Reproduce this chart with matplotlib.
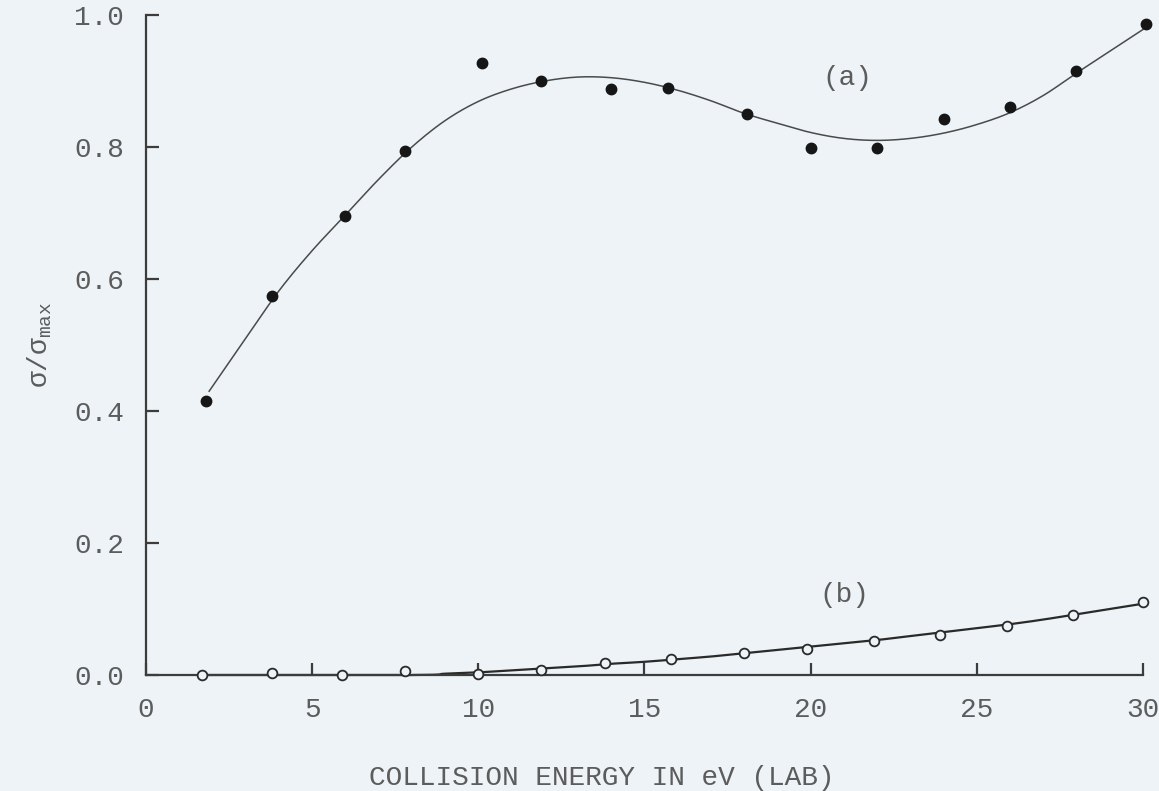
import matplotlib
matplotlib.use('Agg')
import matplotlib.pyplot as plt
import numpy as np

# measured data (a): filled circles
energy_a = [1.8, 3.8, 6.0, 7.8, 10.1, 11.9, 14.0, 15.7, 18.1, 20.0, 22.0, 24.0, 26.0, 28.0, 30.1]
sigma_a = [0.415, 0.574, 0.696, 0.794, 0.928, 0.900, 0.888, 0.889, 0.850, 0.799,
           0.799, 0.843, 0.861, 0.915, 0.987]

# measured data (b): open circles
energy_b = [1.7, 3.8, 5.9, 7.8, 10.0, 11.9, 13.8, 15.8, 18.0, 19.9, 21.9, 23.9, 25.9, 27.9, 30.0]
sigma_b = [0.0, 0.003, 0.0, 0.006, 0.002, 0.008, 0.018, 0.024, 0.033, 0.040,
           0.052, 0.061, 0.074, 0.091, 0.111]

# hand-drawn curves
curve_a_energy = [1.9, 3, 4, 5, 6, 7, 8, 9, 10, 11, 12, 13, 14, 15, 16, 17, 18, 19, 20,
                  21, 22, 23, 24, 25, 26, 27, 28, 29, 30]
curve_a = [0.430, 0.510, 0.582, 0.643, 0.697, 0.751, 0.800, 0.840, 0.869, 0.888, 0.900,
           0.906, 0.905, 0.898, 0.886, 0.870, 0.851, 0.836, 0.822, 0.813, 0.810, 0.813,
           0.821, 0.834, 0.852, 0.878, 0.912, 0.945, 0.978]

curve_b_energy = [1.7, 8, 9, 10, 11, 12, 13, 14, 15, 16, 17, 18, 19, 20, 21, 22, 23, 24,
                  25, 26, 27, 28, 29, 30]
curve_b = [0.0, 0.0, 0.002, 0.004, 0.007, 0.010, 0.013, 0.017, 0.020, 0.024, 0.028, 0.033,
           0.038, 0.043, 0.048, 0.053, 0.059, 0.065, 0.071, 0.077, 0.084, 0.092, 0.100, 0.108]

x_ticks = [0, 5, 10, 15, 20, 25, 30]
x_tick_labels = ['0', '5', '10', '15', '20', '25', '30']
y_ticks = [0.0, 0.2, 0.4, 0.6, 0.8, 1.0]
y_tick_labels = ['0.0', '0.2', '0.4', '0.6', '0.8', '1.0']


def smooth_line(xs, ys, n=12):
    """Catmull-Rom rendering of a hand-drawn line through the read points."""
    x = np.asarray(xs, float)
    y = np.asarray(ys, float)
    px = np.concatenate([[2 * x[0] - x[1]], x, [2 * x[-1] - x[-2]]])
    py = np.concatenate([[2 * y[0] - y[1]], y, [2 * y[-1] - y[-2]]])
    outx, outy = [], []
    t = np.linspace(0, 1, n, endpoint=False)
    for i in range(1, len(px) - 2):
        for arr, out in ((px, outx), (py, outy)):
            p0, p1, p2, p3 = arr[i - 1], arr[i], arr[i + 1], arr[i + 2]
            out.extend(0.5 * ((2 * p1) + (-p0 + p2) * t + (2 * p0 - 5 * p1 + 4 * p2 - p3) * t ** 2
                              + (-p0 + 3 * p1 - 3 * p2 + p3) * t ** 3))
    outx.append(x[-1])
    outy.append(y[-1])
    return outx, outy


plt.rcParams['font.family'] = ['Liberation Mono', 'DejaVu Sans Mono']
text_col = '#5c5c5c'
bg = '#edf3f6'

fig = plt.figure(figsize=(11.59, 7.91), dpi=100, facecolor=bg)
ax = fig.add_axes([146 / 1159, 116 / 791, 1006.9 / 1159, 660 / 791])
ax.set_facecolor(bg)

sx, sy = smooth_line(curve_a_energy, curve_a)
ax.plot(sx, sy, color='#4a4a4a', lw=1.1, clip_on=False, zorder=2)
sx, sy = smooth_line(curve_b_energy, curve_b)
ax.plot(sx, sy, color='#2a2a2a', lw=1.6, clip_on=False, zorder=2)
ax.plot(energy_a, sigma_a, 'o', ms=7.5, color='#161616', clip_on=False, zorder=3)
ax.plot(energy_b, sigma_b, 'o', ms=7, mfc=bg, mec='#2a2a2a', mew=1.3,
        clip_on=False, zorder=3)

ax.set_xlim(0, 30.3)
ax.set_ylim(0, 1.0)
for s in ['top', 'right']:
    ax.spines[s].set_visible(False)
for s in ['left', 'bottom']:
    ax.spines[s].set_color('#3c3c3c')
    ax.spines[s].set_linewidth(1.6)
ax.spines['bottom'].set_bounds(0, 30)
ax.spines['left'].set_bounds(0, 1.0)

ax.set_xticks(x_ticks)
ax.set_xticklabels(x_tick_labels)
ax.set_yticks(y_ticks)
ax.set_yticklabels(y_tick_labels)
ax.tick_params(axis='both', direction='in', color='#3c3c3c', width=1.6,
               labelsize=20, labelcolor=text_col)
ax.tick_params(axis='x', length=8.5, pad=16)
ax.tick_params(axis='y', length=9.5, pad=16)

ax.set_xlabel('COLLISION ENERGY IN eV (LAB)', fontsize=20, color=text_col,
              va='center', ha='center')
ax.xaxis.set_label_coords(0.453, -0.156)
ax.set_ylabel('$\\mathregular{σ/σ_{max}}$', fontsize=20, color=text_col, labelpad=14)

ax.text(21.1, 0.904, '(a)', fontsize=20, color=text_col, ha='center', va='center')
ax.text(21.0, 0.121, '(b)', fontsize=20, color=text_col, ha='center', va='center')

fig.savefig('out.png', dpi=100, facecolor=bg)
